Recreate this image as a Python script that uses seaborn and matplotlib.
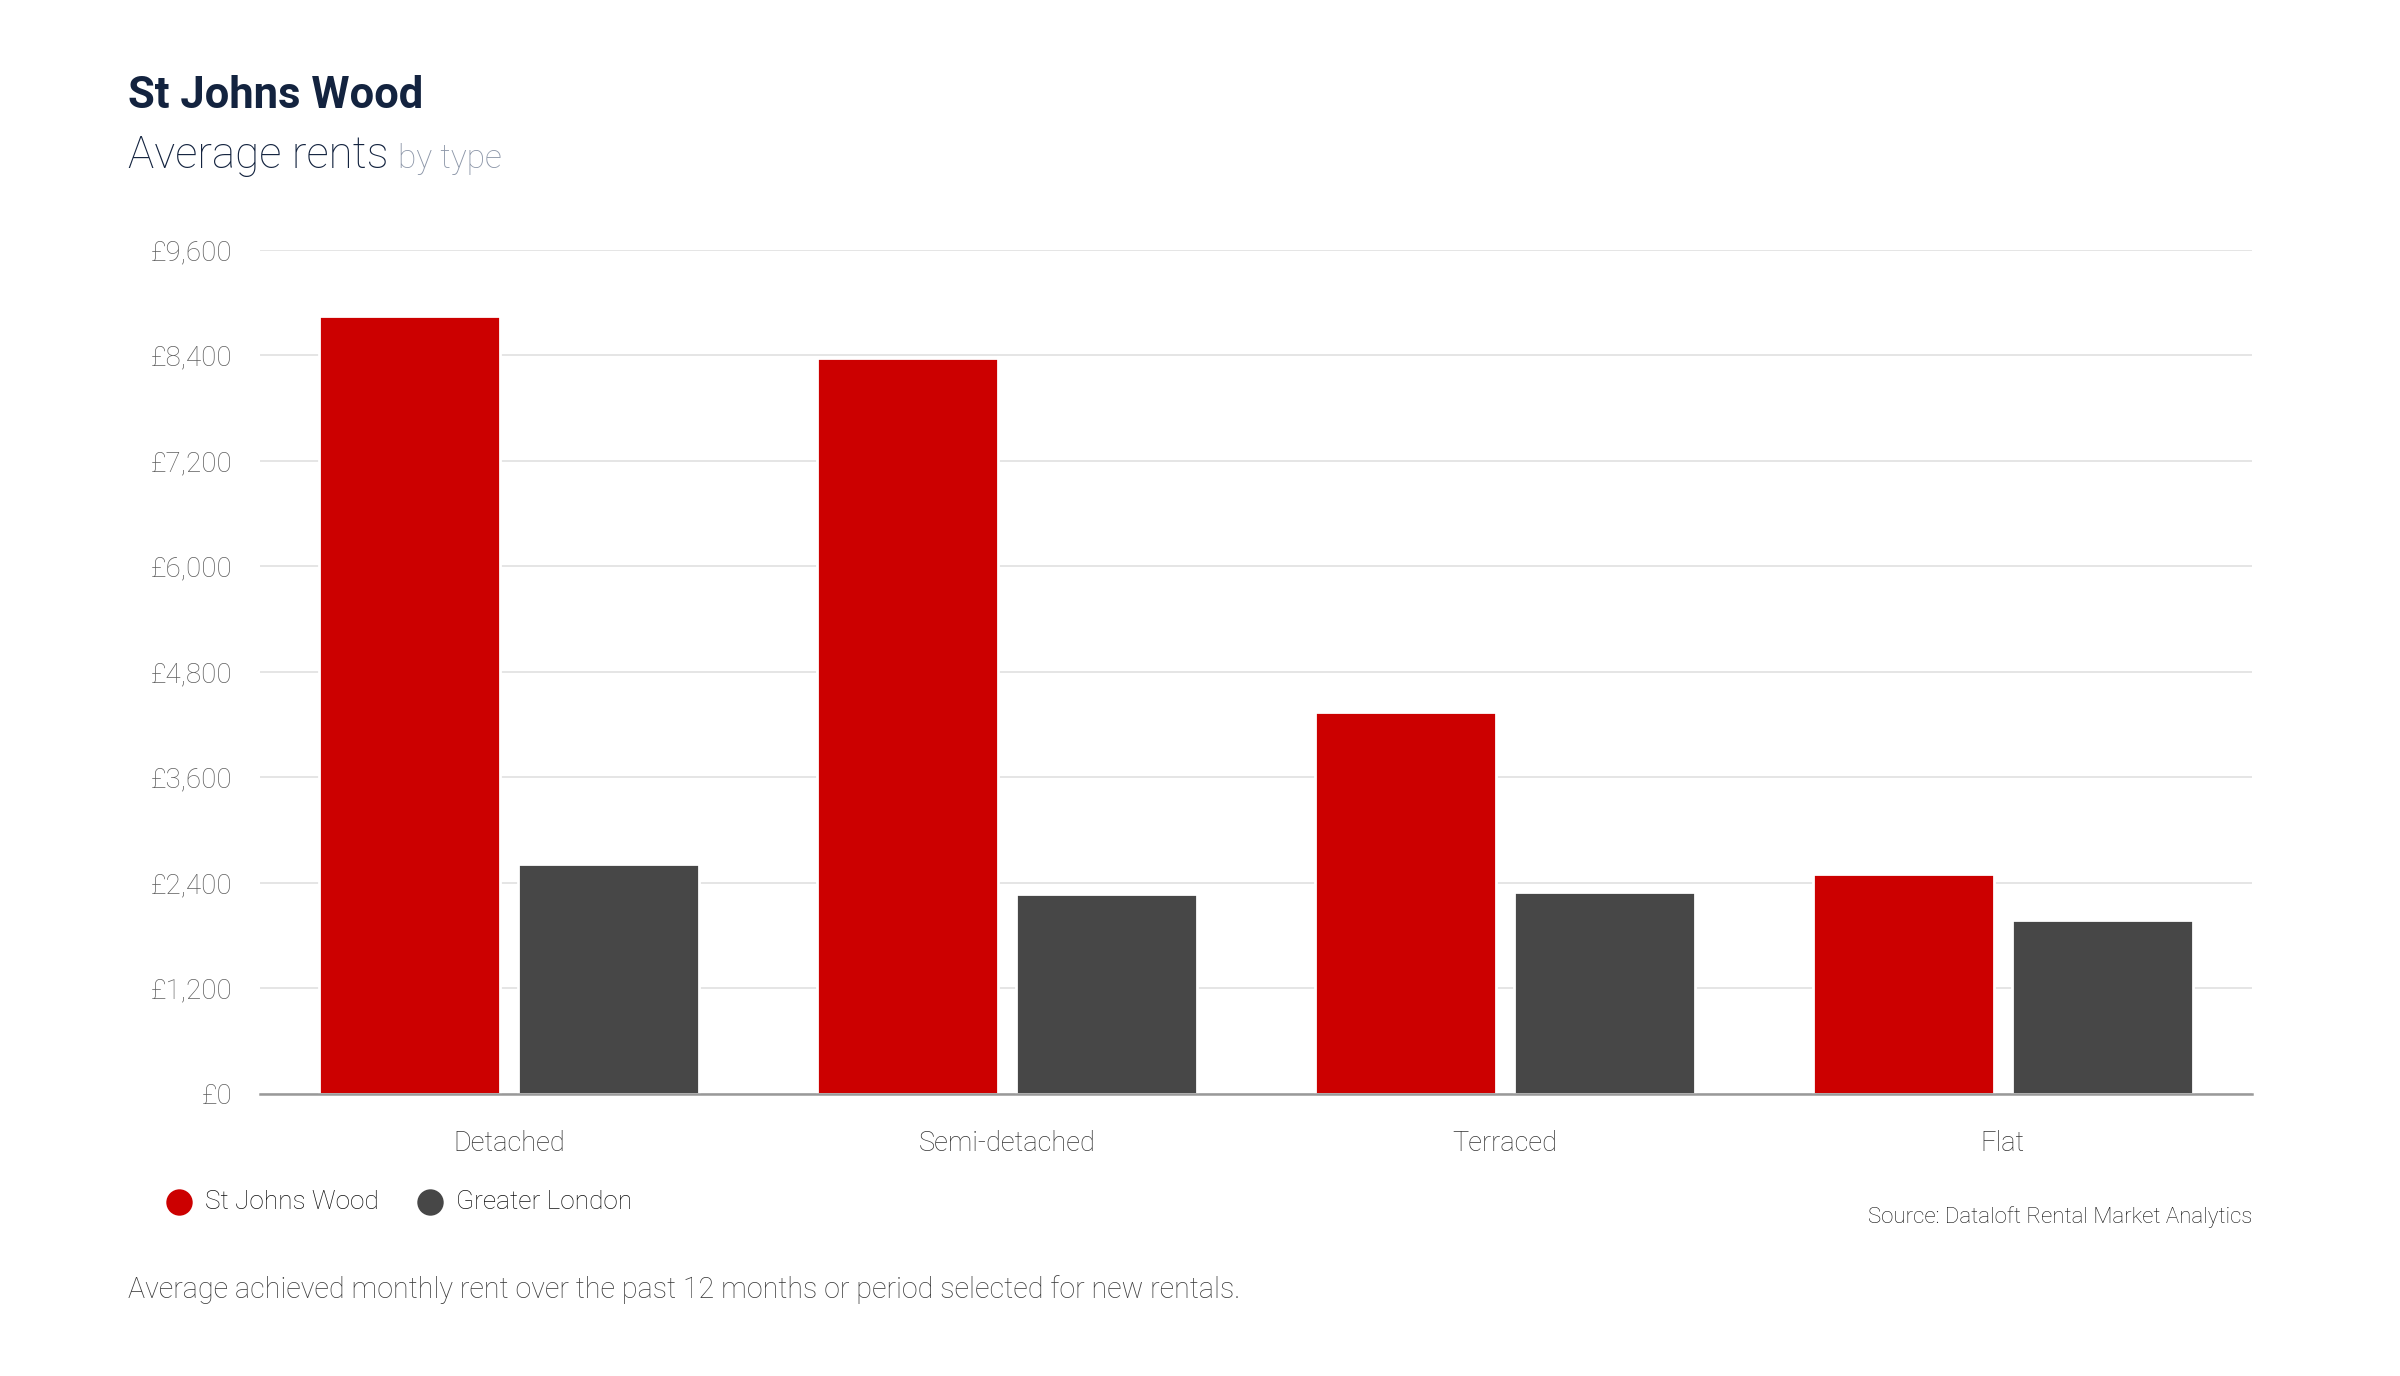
import matplotlib
matplotlib.use("Agg")
import matplotlib.pyplot as plt
from matplotlib.lines import Line2D
import seaborn as sns
import pandas as pd

# data
categories = ["Detached", "Semi-detached", "Terraced", "Flat"]
series_names = ["St Johns Wood", "Greater London"]
st_johns_wood = [8850, 8365, 4340, 2500]
greater_london = [2615, 2270, 2295, 1975]
y_ticks = [0, 1200, 2400, 3600, 4800, 6000, 7200, 8400, 9600]

colors = {"St Johns Wood": "#cc0000", "Greater London": "#474747"}
navy = "#13233f"

df = pd.DataFrame({
    "type": categories * 2,
    "area": [series_names[0]] * 4 + [series_names[1]] * 4,
    "rent": st_johns_wood + greater_london,
})

sns.set_style("white")
plt.rcParams["font.family"] = ["Roboto", "DejaVu Sans"]

fig = plt.figure(figsize=(12, 6.88), dpi=200)
ax = fig.add_axes([0.1083, 0.2052, 0.83, 0.6134])

sns.barplot(data=df, x="type", y="rent", hue="area", order=categories,
            hue_order=series_names, palette=colors, width=0.8, gap=0.09,
            saturation=1, legend=False, ax=ax)

ax.set_xlim(-0.5, 3.5)
ax.set_ylim(0, 9600)
ax.set_yticks(y_ticks)
ax.set_yticklabels([f"£{v:,}" for v in y_ticks])
ax.set_xlabel("")
ax.set_ylabel("")
ax.grid(axis="y", color="#e5e5e5", linewidth=0.7)
ax.set_axisbelow(True)
for s in ["top", "right", "left"]:
    ax.spines[s].set_visible(False)
ax.spines["bottom"].set_color("#999999")
ax.spines["bottom"].set_linewidth(0.9)
ax.tick_params(axis="y", length=0, pad=10, labelsize=10, labelcolor="#5e5e5e")
ax.tick_params(axis="x", length=0, pad=13, labelsize=9.8, labelcolor="#333333")
for lab in ax.get_yticklabels() + ax.get_xticklabels():
    lab.set_fontweight("light")

# titles
fig.text(0.0533, 0.9215, "St Johns Wood", fontsize=15.7, fontweight="bold",
         color=navy, va="baseline")
sub = fig.text(0.0533, 0.878, "Average rents", fontsize=15.8, fontweight="light",
               color=navy, va="baseline")
fig.canvas.draw()
bb = sub.get_window_extent().transformed(fig.transFigure.inverted())
fig.text(bb.x1 + 0.004, 0.878, "by type", fontsize=12, fontweight="light",
         color="#8c96a8", va="baseline")

# legend
leg_y = 0.1262
for x_dot, name in [(0.0746, series_names[0]), (0.1792, series_names[1])]:
    fig.add_artist(Line2D([x_dot], [leg_y], marker="o", markersize=8.5,
                          color=colors[name], linestyle="none",
                          transform=fig.transFigure))
    fig.text(x_dot + 0.0108, leg_y, name, fontsize=9.45, color="#111111",
             va="center", fontweight="light")

fig.text(0.9383, 0.1114, "Source: Dataloft Rental Market Analytics", fontsize=8,
         color="#111111", ha="right", va="baseline", fontweight="light")
fig.text(0.0533, 0.0567,
         "Average achieved monthly rent over the past 12 months or period selected for new rentals.",
         fontsize=10.3, color="#3a3a3a", va="baseline", fontweight="light")

fig.savefig("out.png", dpi=200, facecolor="white")
